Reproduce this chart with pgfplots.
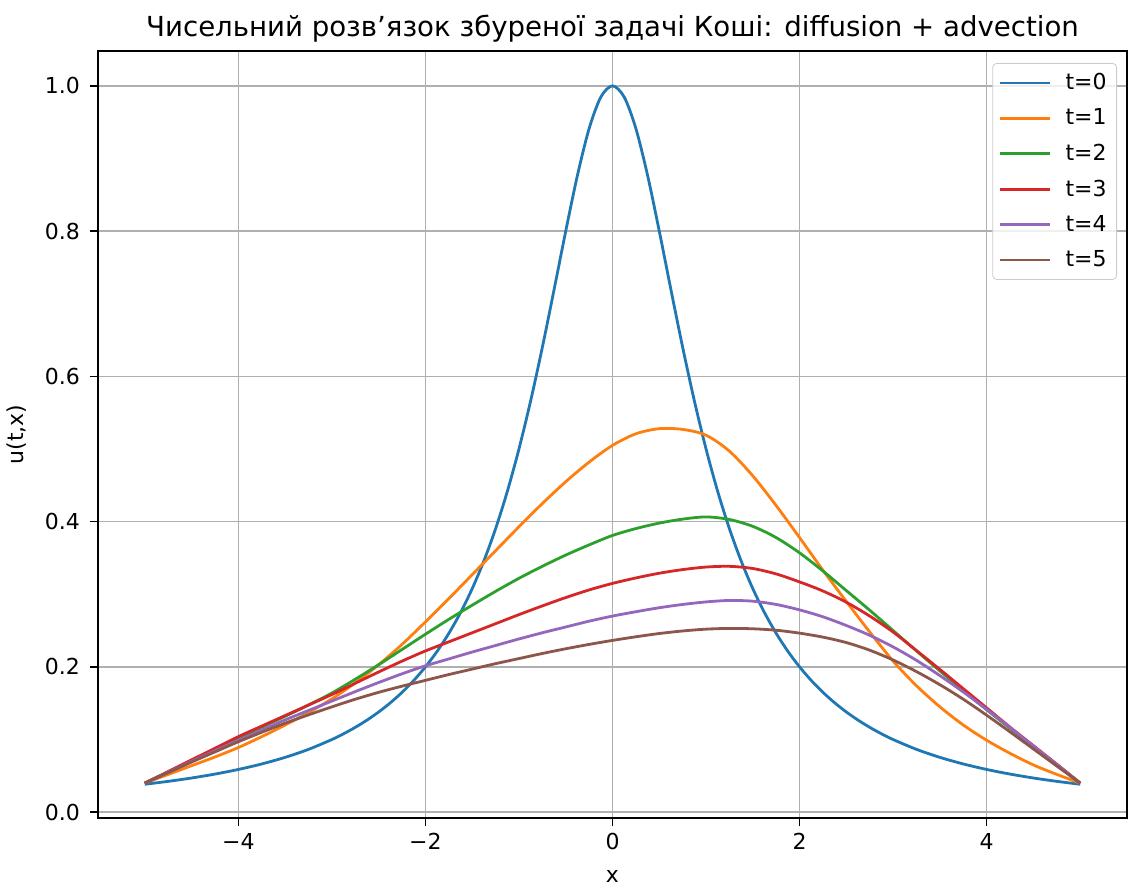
\documentclass[border=0pt]{standalone}
\usepackage{fontspec}
\setmainfont{DejaVu Sans}
\usepackage{pgfplots}
\pgfplotsset{compat=1.18}
\definecolor{c0}{HTML}{1F77B4}
\definecolor{c1}{HTML}{FF7F0E}
\definecolor{c2}{HTML}{2CA02C}
\definecolor{c3}{HTML}{D62728}
\definecolor{c4}{HTML}{9467BD}
\definecolor{c5}{HTML}{8C564B}
\begin{document}
\begin{tikzpicture}
\useasboundingbox (-49pt,-34.5pt) rectangle (515pt,409pt);
\begin{axis}[
  scale only axis, width=514.5pt, height=383.5pt,
  xmin=-5.5, xmax=5.5, ymin=-0.008, ymax=1.048,
  xtick={-4,-2,0,2,4}, xticklabels={−4,−2,0,2,4},
  ytick={0,0.2,0.4,0.6,0.8,1.0}, yticklabels={0.0,0.2,0.4,0.6,0.8,1.0},
  tick align=outside, tick pos=left, major tick length=4pt,
  grid=major, grid style={color=black!31, line width=0.7pt},
  axis line style={line width=0.7pt},
  tick style={black, line width=0.7pt},
  ticklabel style={font=\fontsize{11}{13}\selectfont},
  yticklabel style={xshift=-1.5pt},
  every axis title shift=0pt,
  title={Чисельний розв’язок збуреної задачі Коші: diffusion + advection},
  title style={font=\fontsize{13.8}{16}\selectfont, at={(axis description cs:0.5,1)}, anchor=base, yshift=7pt},
  xlabel={x}, ylabel={u(t,x)},
  xlabel style={font=\fontsize{11}{13}\selectfont, at={(axis description cs:0.5,-0.0756)}, anchor=center},
  ylabel style={font=\fontsize{11}{13}\selectfont, at={(axis description cs:-0.0787,0.5)}, anchor=center},
  legend cell align=left,
  legend image code/.code={\draw[#1, line width=1.4pt] (0pt,0pt) -- (25pt,0pt);},
  legend style={at={(axis description cs:1,1)}, anchor=north east, xshift=-5pt, yshift=-6pt,
    draw=black!20, rounded corners=2pt, fill=white, fill opacity=0.8, text opacity=1,
    font=\fontsize{11}{13}\selectfont, row sep=4.1pt, inner sep=3pt,
    /tikz/every odd column/.append style={column sep=5pt}},
]
\addplot[c0, smooth, line width=1.4pt] coordinates {(-5,0.038462)(-4.75,0.04244)(-4.5,0.047059)(-4.25,0.052459)(-4,0.058824)(-3.75,0.06639)(-3.5,0.075472)(-3.25,0.086486)(-3,0.1)(-2.875,0.107926)(-2.75,0.116788)(-2.625,0.126733)(-2.5,0.137931)(-2.375,0.150588)(-2.25,0.164948)(-2.125,0.181303)(-2,0.2)(-1.875,0.221453)(-1.75,0.246154)(-1.625,0.274678)(-1.5,0.307692)(-1.375,0.345946)(-1.25,0.390244)(-1.125,0.441379)(-1,0.5)(-0.875,0.566372)(-0.75,0.64)(-0.625,0.719101)(-0.5,0.8)(-0.375,0.876712)(-0.25,0.941176)(-0.125,0.984615)(0,1)(0.125,0.984615)(0.25,0.941176)(0.375,0.876712)(0.5,0.8)(0.625,0.719101)(0.75,0.64)(0.875,0.566372)(1,0.5)(1.125,0.441379)(1.25,0.390244)(1.375,0.345946)(1.5,0.307692)(1.625,0.274678)(1.75,0.246154)(1.875,0.221453)(2,0.2)(2.125,0.181303)(2.25,0.164948)(2.375,0.150588)(2.5,0.137931)(2.625,0.126733)(2.75,0.116788)(2.875,0.107926)(3,0.1)(3.25,0.086486)(3.5,0.075472)(3.75,0.06639)(4,0.058824)(4.25,0.052459)(4.5,0.047059)(4.75,0.04244)(5,0.038462)};
\addlegendentry{t=0}
\addplot[c1, smooth, line width=1.4pt] coordinates {(-5,0.040)(-4.75,0.052)(-4.5,0.064)(-4.25,0.076)(-4,0.089)(-3.75,0.104)(-3.5,0.120)(-3.25,0.137)(-3,0.156)(-2.75,0.178)(-2.5,0.203)(-2.25,0.231)(-2,0.262)(-1.75,0.294)(-1.5,0.327)(-1.25,0.360)(-1,0.393)(-0.75,0.425)(-0.5,0.455)(-0.25,0.482)(0,0.505)(0.25,0.521)(0.5,0.528)(0.75,0.527)(1,0.519)(1.25,0.497)(1.5,0.463)(1.75,0.422)(2,0.378)(2.25,0.333)(2.5,0.290)(2.75,0.248)(3,0.208)(3.25,0.174)(3.5,0.145)(3.75,0.120)(4,0.099)(4.25,0.081)(4.5,0.065)(4.75,0.052)(5,0.040)};
\addlegendentry{t=1}
\addplot[c2, smooth, line width=1.4pt] coordinates {(-5,0.040)(-4.75,0.0555)(-4.5,0.071)(-4.25,0.0865)(-4,0.102)(-3.75,0.117)(-3.5,0.132)(-3.25,0.1475)(-3,0.164)(-2.75,0.183)(-2.5,0.203)(-2.25,0.224)(-2,0.245)(-1.75,0.2655)(-1.5,0.285)(-1.25,0.304)(-1,0.322)(-0.75,0.3385)(-0.5,0.354)(-0.25,0.368)(0,0.381)(0.25,0.3905)(0.5,0.398)(0.75,0.4035)(1,0.4065)(1.25,0.403)(1.5,0.3935)(1.75,0.378)(2,0.357)(2.25,0.332)(2.5,0.305)(2.75,0.278)(3,0.250)(3.25,0.222)(3.5,0.1945)(3.75,0.1675)(4,0.141)(4.25,0.1155)(4.5,0.0905)(4.75,0.0655)(5,0.040)};
\addlegendentry{t=2}
\addplot[c3, smooth, line width=1.4pt] coordinates {(-5,0.040)(-4.75,0.056)(-4.5,0.072)(-4.25,0.088)(-4,0.104)(-3.75,0.1185)(-3.5,0.133)(-3.25,0.1475)(-3,0.162)(-2.75,0.1775)(-2.5,0.193)(-2.25,0.208)(-2,0.222)(-1.75,0.2345)(-1.5,0.247)(-1.25,0.2595)(-1,0.272)(-0.75,0.284)(-0.5,0.2955)(-0.25,0.306)(0,0.315)(0.25,0.3225)(0.5,0.329)(0.75,0.334)(1,0.3375)(1.25,0.3385)(1.5,0.3355)(1.75,0.328)(2,0.317)(2.25,0.3045)(2.5,0.289)(2.75,0.270)(3,0.248)(3.25,0.2225)(3.5,0.1965)(3.75,0.170)(4,0.1435)(4.25,0.117)(4.5,0.0915)(4.75,0.066)(5,0.040)};
\addlegendentry{t=3}
\addplot[c4, smooth, line width=1.4pt] coordinates {(-5,0.040)(-4.75,0.055)(-4.5,0.070)(-4.25,0.0845)(-4,0.099)(-3.75,0.113)(-3.5,0.127)(-3.25,0.140)(-3,0.153)(-2.75,0.166)(-2.5,0.1785)(-2.25,0.1905)(-2,0.2015)(-1.75,0.211)(-1.5,0.2205)(-1.25,0.2295)(-1,0.2385)(-0.75,0.247)(-0.5,0.255)(-0.25,0.263)(0,0.270)(0.25,0.276)(0.5,0.2815)(0.75,0.286)(1,0.2895)(1.25,0.2915)(1.5,0.2905)(1.75,0.286)(2,0.2785)(2.25,0.269)(2.5,0.257)(2.75,0.2435)(3,0.2275)(3.25,0.209)(3.5,0.188)(3.75,0.1655)(4,0.1415)(4.25,0.1165)(4.5,0.091)(4.75,0.0655)(5,0.040)};
\addlegendentry{t=4}
\addplot[c5, smooth, line width=1.4pt] coordinates {(-5,0.040)(-4.75,0.0545)(-4.5,0.069)(-4.25,0.083)(-4,0.097)(-3.75,0.110)(-3.5,0.1225)(-3.25,0.134)(-3,0.145)(-2.75,0.1555)(-2.5,0.165)(-2.25,0.1735)(-2,0.1815)(-1.75,0.1895)(-1.5,0.197)(-1.25,0.2045)(-1,0.2115)(-0.75,0.2185)(-0.5,0.225)(-0.25,0.231)(0,0.2365)(0.25,0.2415)(0.5,0.246)(0.75,0.2495)(1,0.252)(1.25,0.253)(1.5,0.2525)(1.75,0.2505)(2,0.2465)(2.25,0.241)(2.5,0.2335)(2.75,0.223)(3,0.2095)(3.25,0.1935)(3.5,0.1755)(3.75,0.1555)(4,0.1335)(4.25,0.1105)(4.5,0.087)(4.75,0.0635)(5,0.040)};
\addlegendentry{t=5}
\end{axis}
\end{tikzpicture}
\end{document}
